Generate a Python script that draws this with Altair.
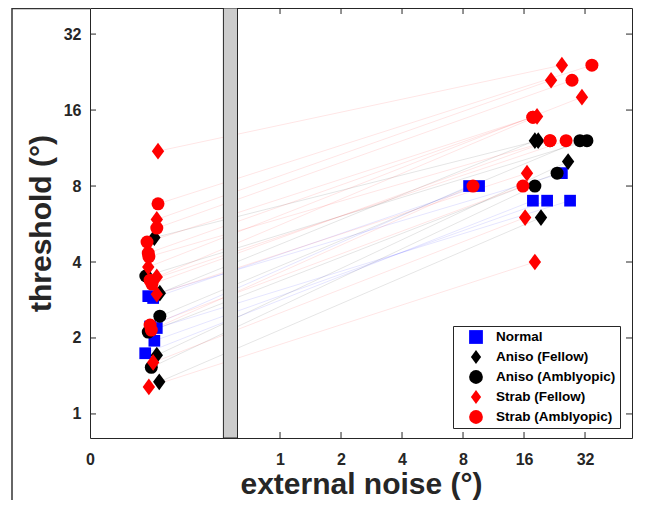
import altair as alt
import numpy as np
import pandas as pd

# ---------------- data ----------------
groups = ["Normal", "Aniso (Fellow)", "Aniso (Amblyopic)", "Strab (Fellow)", "Strab (Amblyopic)"]
marker_colors = ["#0000ff", "#000000", "#000000", "#ff0000", "#ff0000"]
DIAMOND = "M0,-1L0.74,0L0,1L-0.74,0Z"
marker_shapes = ["square", DIAMOND, "circle", DIAMOND, "circle"]
marker_sizes = [137, 279, 169, 279, 169]

# thresholds (deg) with zero external noise, and their horizontal jitter (octaves)
normal_zero_thr = [1.74, 1.95, 2.19, 2.22, 2.88, 2.93]
normal_zero_jit = [-0.08, 0.07, 0.11, 0.00, 0.05, -0.03]
aniso_f_zero_thr = [1.34, 1.71, 3.01, 5.0]
aniso_f_zero_jit = [0.15, 0.11, 0.16, 0.07]
aniso_a_zero_thr = [1.53, 2.11, 2.44, 3.52]
aniso_a_zero_jit = [0.02, -0.03, 0.16, -0.07]
strab_f_zero_thr = [1.28, 1.60, 2.98, 3.49, 3.82, 5.9, 11.0]
strab_f_zero_jit = [-0.02, 0.05, 0.11, 0.11, -0.03, 0.11, 0.13]
strab_a_zero_thr = [2.15, 2.25, 3.27, 3.39, 4.2, 4.34, 4.8, 5.45, 6.8]
strab_a_zero_jit = [0.02, 0.00, 0.03, 0.00, -0.02, -0.03, -0.05, 0.11, 0.13]

# external noise (deg) and threshold (deg) at high noise
normal_hi_noise = [17.7, 20.8, 27.0, 8.57, 9.6, 24.6]
normal_hi_thr = [7.0, 7.0, 7.0, 8.0, 8.0, 9.0]
aniso_f_hi_noise = [19.4, 26.4, 18.1, 18.8]
aniso_f_hi_thr = [6.0, 10.0, 12.1, 12.1]
aniso_a_hi_noise = [18.1, 23.3, 30.2, 32.7]
aniso_a_hi_thr = [8.0, 9.0, 12.1, 12.1]
strab_f_hi_noise = [18.1, 16.2, 16.55, 18.55, 30.9, 21.75, 24.6]
strab_f_hi_thr = [4.0, 6.0, 9.0, 15.1, 18.0, 21.0, 24.1]
strab_a_hi_noise = [8.96, 15.8, 21.5, 25.8, 21.5, 17.7, 17.7, 27.6, 34.6]
strab_a_hi_thr = [8.0, 8.0, 12.1, 12.1, 12.1, 15.0, 15.0, 21.0, 24.1]

y_ticks = [1, 2, 4, 8, 16, 32]
x_tick_octaves = [0, 1, 2, 3, 4, 5]          # 1,2,4,8,16,32 deg
ZERO_POS = -2.13                              # where "no noise" is drawn (octaves)
X_DOMAIN = [-3.115, 5.77]
BREAK = [-0.928, -0.697]
Y_DOMAIN = [0.803, 40.6]

zero_thr = [normal_zero_thr, aniso_f_zero_thr, aniso_a_zero_thr, strab_f_zero_thr, strab_a_zero_thr]
zero_jit = [normal_zero_jit, aniso_f_zero_jit, aniso_a_zero_jit, strab_f_zero_jit, strab_a_zero_jit]
hi_noise = [normal_hi_noise, aniso_f_hi_noise, aniso_a_hi_noise, strab_f_hi_noise, strab_a_hi_noise]
hi_thr = [normal_hi_thr, aniso_f_hi_thr, aniso_a_hi_thr, strab_f_hi_thr, strab_a_hi_thr]

rows = []
subj = 0
for gi, g in enumerate(groups):
    for zt, zj, hn, ht in zip(zero_thr[gi], zero_jit[gi], hi_noise[gi], hi_thr[gi]):
        common = dict(subj=subj, group=g, order=gi, lc=marker_colors[gi], sz=marker_sizes[gi])
        rows.append(dict(common, side=0, xpos=ZERO_POS + zj, thr=zt))
        rows.append(dict(common, side=1, xpos=float(np.log2(hn)), thr=ht))
        subj += 1
df = pd.DataFrame(rows)

W, H = 542, 430
AX = "#262626"
FONT = "Liberation Sans"

xscale = alt.Scale(domain=X_DOMAIN, nice=False, zero=False)
yscale = alt.Scale(type="log", base=2, domain=Y_DOMAIN, nice=False)

x_axis = alt.Axis(
    values=[X_DOMAIN[0]] + x_tick_octaves,
    labelExpr="datum.value < -1 ? '0' : format(pow(2, datum.value), 'd')",
    title="external noise (°)", ticks=False, domain=False, grid=False,
    labelFlush=False, labelOverlap=False, labelPadding=13,
    labelFont=FONT, labelFontSize=16, labelFontWeight="bold", labelColor=AX,
    titleFont=FONT, titleFontSize=30, titleFontWeight="bold", titleColor=AX, titlePadding=2,
)
y_axis = alt.Axis(
    values=y_ticks, format="d", title="threshold (°)", ticks=False, domain=False, grid=False,
    labelPadding=9, labelOverlap=False,
    labelFont=FONT, labelFontSize=16, labelFontWeight="bold", labelColor=AX,
    titleFont=FONT, titleFontSize=30, titleFontWeight="bold", titleColor=AX, titlePadding=7,
)

lines = alt.Chart(df).mark_line(strokeWidth=1, strokeOpacity=0.1).encode(
    x=alt.X("xpos:Q", scale=xscale, axis=x_axis),
    y=alt.Y("thr:Q", scale=yscale, axis=y_axis),
    detail="subj:N",
    order="side:Q",
    stroke=alt.Stroke("lc:N", scale=None),
)

bar_df = pd.DataFrame({"xpos": [BREAK[0]], "b2": [BREAK[1]]})
bar = alt.Chart(bar_df).mark_rect(fill="#cccccc", stroke=AX, strokeWidth=1).encode(
    x=alt.X("xpos:Q", scale=xscale, axis=x_axis), x2="b2:Q",
    y=alt.value(0), y2=alt.value(H),
)

legend = alt.Legend(
    title=None, orient="none", legendX=363, legendY=318, padding=4,
    symbolOffset=12, labelOffset=13, rowPadding=6, symbolSize=190,
    labelFont=FONT, labelFontSize=13.5, labelFontWeight="bold", labelColor="#000000",
    strokeColor=AX, fillColor="white", cornerRadius=0, labelLimit=300,
    symbolStrokeWidth=0, symbolOpacity=1,
)

points = alt.Chart(df).mark_point(filled=True, opacity=1, strokeWidth=0).encode(
    x=alt.X("xpos:Q", scale=xscale, axis=x_axis),
    y=alt.Y("thr:Q", scale=yscale, axis=y_axis),
    color=alt.Color("group:N", scale=alt.Scale(domain=groups, range=marker_colors), legend=legend),
    shape=alt.Shape("group:N", scale=alt.Scale(domain=groups, range=marker_shapes), legend=legend),
    size=alt.Size("sz:Q", scale=None),
    order="order:Q",
)

ytk = pd.DataFrame({"thr": y_ticks})
xtk = pd.DataFrame({"xpos": x_tick_octaves})
tick_l = alt.Chart(ytk).mark_rule(color=AX).encode(y=alt.Y("thr:Q", scale=yscale, axis=y_axis), x=alt.value(0), x2=alt.value(6))
tick_r = alt.Chart(ytk).mark_rule(color=AX).encode(y=alt.Y("thr:Q", scale=yscale, axis=y_axis), x=alt.value(W - 6), x2=alt.value(W))
tick_b = alt.Chart(xtk).mark_rule(color=AX).encode(x=alt.X("xpos:Q", scale=xscale, axis=x_axis), y=alt.value(H - 6), y2=alt.value(H))
tick_t = alt.Chart(xtk).mark_rule(color=AX).encode(x=alt.X("xpos:Q", scale=xscale, axis=x_axis), y=alt.value(0), y2=alt.value(6))

# outer panel frame (left edge and top edge of the figure panel)
frame_df = pd.DataFrame({"k": [0]})
frame_left = alt.Chart(frame_df).mark_rule(color="#333333", strokeWidth=1.5).encode(
    x=alt.value(-78), y=alt.value(0), y2=alt.value(H + 70))
frame_top = alt.Chart(frame_df).mark_rule(color="#333333", strokeWidth=1.5).encode(
    x=alt.value(-78), x2=alt.value(0), y=alt.value(0.5))

chart = alt.layer(lines, bar, tick_l, tick_r, tick_b, tick_t, frame_left, frame_top, points).properties(
    width=W, height=H,
    autosize=alt.AutoSizeParams(type="none"),
    padding={"left": 82, "top": 0, "right": 10, "bottom": 62},
    background="white",
).configure_view(stroke=AX, strokeWidth=1)

chart.save("out.html", embed_options={"renderer": "svg", "actions": False})
